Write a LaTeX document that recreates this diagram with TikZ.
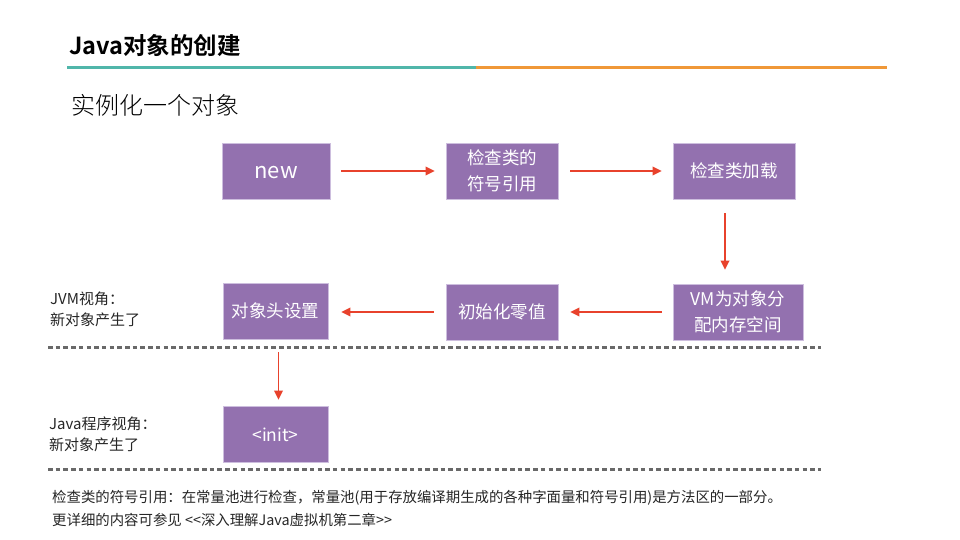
\documentclass[tikz,border=0pt]{standalone}
\usepackage{fontspec}
\setmainfont{Noto Sans CJK SC}
\newfontfamily\cjkbold{Noto Sans CJK SC Bold}
\newfontfamily\cjklight{Noto Sans CJK SC Light}
\usetikzlibrary{arrows.meta}
\definecolor{boxpurple}{RGB}{147,113,175}
\definecolor{boxedge}{RGB}{205,190,222}
\definecolor{arrred}{RGB}{232,66,44}
\definecolor{teal}{RGB}{80,182,170}
\definecolor{orng}{RGB}{240,152,56}
\definecolor{dashgray}{RGB}{105,105,105}
\begin{document}
\begin{tikzpicture}[x=1pt,y=-1pt,
  stepbox/.style={draw=boxedge,line width=0.6pt,fill=boxpurple,text=white,inner sep=0pt,align=center,font=\fontsize{17.5}{25.5}\selectfont},
  latinbox/.style={text height=15pt,text depth=0pt},
  flow/.style={draw=arrred,line width=1.8pt,-{Triangle[length=9pt,width=8.5pt]}},
  sep/.style={draw=dashgray,line width=2.6pt,dash pattern=on 4.5pt off 3.2pt},
  lbl/.style={anchor=north west,inner sep=0pt,align=left,text=black!85,font=\fontsize{15}{21}\selectfont}
]
\useasboundingbox (0,0) rectangle (960,540);
\fill[white] (0,0) rectangle (960,540);

% title
\node[anchor=west,inner sep=0pt,font=\cjkbold\fontsize{23.5}{26}\selectfont] (title) at (69,46) {Java对象的创建};
\coordinate (l0) at (67,67.5);
\coordinate (lm) at (476,67.5);
\coordinate (l1) at (887,67.5);
\draw[teal,line width=2.2pt] (l0) -- (lm);
\draw[orng,line width=2.2pt] (lm) -- (l1);
\node[anchor=west,inner sep=0pt,font=\cjklight\fontsize{24}{27}\selectfont] (sub) at (71,105) {实例化一个对象};

% boxes
\node[stepbox,latinbox,minimum width=108pt,minimum height=56pt,font=\fontsize{22}{25}\selectfont] (new) at (276,171) {new};
\node[stepbox,minimum width=112pt,minimum height=56pt] (sym) at (502,171) {检查类的\\符号引用};
\node[stepbox,minimum width=122pt,minimum height=56pt] (load) at (734,171) {检查类加载};
\node[stepbox,minimum width=130pt,minimum height=56pt] (mem) at (738,312) {VM为对象分\\配内存空间};
\node[stepbox,minimum width=112pt,minimum height=56pt] (zero) at (502,312) {初始化零值};
\node[stepbox,minimum width=105pt,minimum height=56pt] (head) at (275.5,311) {对象头设置};
\node[stepbox,latinbox,minimum width=105pt,minimum height=56pt] (init) at (275.5,434) {<init>};

% arrows
\draw[flow] ([xshift=11pt]new.east) -- ([xshift=-11pt]sym.west);
\draw[flow] ([xshift=12pt]sym.east) -- ([xshift=-11pt]load.west);
\draw[flow] ([xshift=-9pt,yshift=-14pt]load.south) -- ([xshift=-13pt,yshift=14pt]mem.north);
\draw[flow] ([xshift=-11pt]mem.west) -- ([xshift=12pt]zero.east);
\draw[flow] ([xshift=-12pt]zero.west) -- ([xshift=13pt]head.east |- zero.west);
\draw[flow] ([xshift=3pt,yshift=-13pt]head.south) -- ([xshift=3pt,yshift=6pt]init.north);

% separators
\coordinate (d1a) at (48,347.5);
\coordinate (d1b) at (821,347.5);
\coordinate (d2a) at (48,469.3);
\coordinate (d2b) at (821,469.3);
\draw[sep] (d1a) -- (d1b);
\draw[sep] (d2a) -- (d2b);

% side labels
\node[lbl] (jvm) at (50,292) {JVM视角：\\新对象产生了};
\node[lbl] (jprog) at (49,417) {Java程序视角：\\新对象产生了};

% note
\node[anchor=north west,inner sep=0pt,align=left,text=black!85,font=\fontsize{14.4}{23}\selectfont] (note) at (52,490) {检查类的符号引用：在常量池进行检查，常量池(用于存放编译期生成的各种字面量和符号引用)是方法区的一部分。\\更详细的内容可参见 <{}<深入理解Java虚拟机第二章>{}>};
\end{tikzpicture}
\end{document}
